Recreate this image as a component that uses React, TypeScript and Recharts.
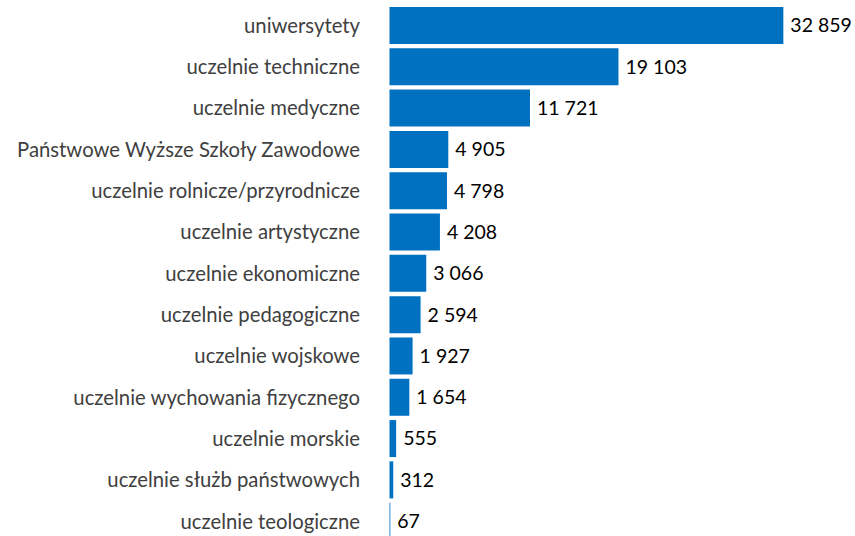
import React from "react";
import { Bar, BarChart, LabelList, XAxis, YAxis } from "recharts";

const categories = [
  "uniwersytety",
  "uczelnie techniczne",
  "uczelnie medyczne",
  "Państwowe Wyższe Szkoły Zawodowe",
  "uczelnie rolnicze/przyrodnicze",
  "uczelnie artystyczne",
  "uczelnie ekonomiczne",
  "uczelnie pedagogiczne",
  "uczelnie wojskowe",
  "uczelnie wychowania fizycznego",
  "uczelnie morskie",
  "uczelnie służb państwowych",
  "uczelnie teologiczne",
];

const values = [32859, 19103, 11721, 4905, 4798, 4208, 3066, 2594, 1927, 1654, 555, 312, 67];

const data = categories.map((name, i) => ({ name, value: values[i] }));

const formatValue = (v: any) => String(v).replace(/\B(?=(\d{3})+(?!\d))/g, " ");

const FONT = "Lato, 'Open Sans', sans-serif";

const App: React.FC = () => {
  return (
    <div style={{ position: "fixed", top: 0, left: 0, width: 855, height: 536, overflow: "hidden", background: "#fff" }}>
      <BarChart
        width={855}
        height={545}
        data={data}
        layout="vertical"
        margin={{ top: 5, right: 34, left: 0, bottom: 3 }}
        barSize={37}
      >
        <XAxis type="number" domain={[0, 36000]} hide />
        <YAxis
          type="category"
          dataKey="name"
          width={389.5}
          axisLine={false}
          tickLine={false}
          tickMargin={23.5}
          interval={0}
          tick={{ fill: "#404040", fontSize: 20.3, fontFamily: FONT }}
        />
        <Bar dataKey="value" fill="#0070C0" isAnimationActive={false}>
          <LabelList
            dataKey="value"
            position="right"
            offset={7}
            formatter={formatValue}
            style={{ fill: "#000000", fontSize: 19.5, fontFamily: FONT }}
          />
        </Bar>
      </BarChart>
    </div>
  );
};

export default App;
